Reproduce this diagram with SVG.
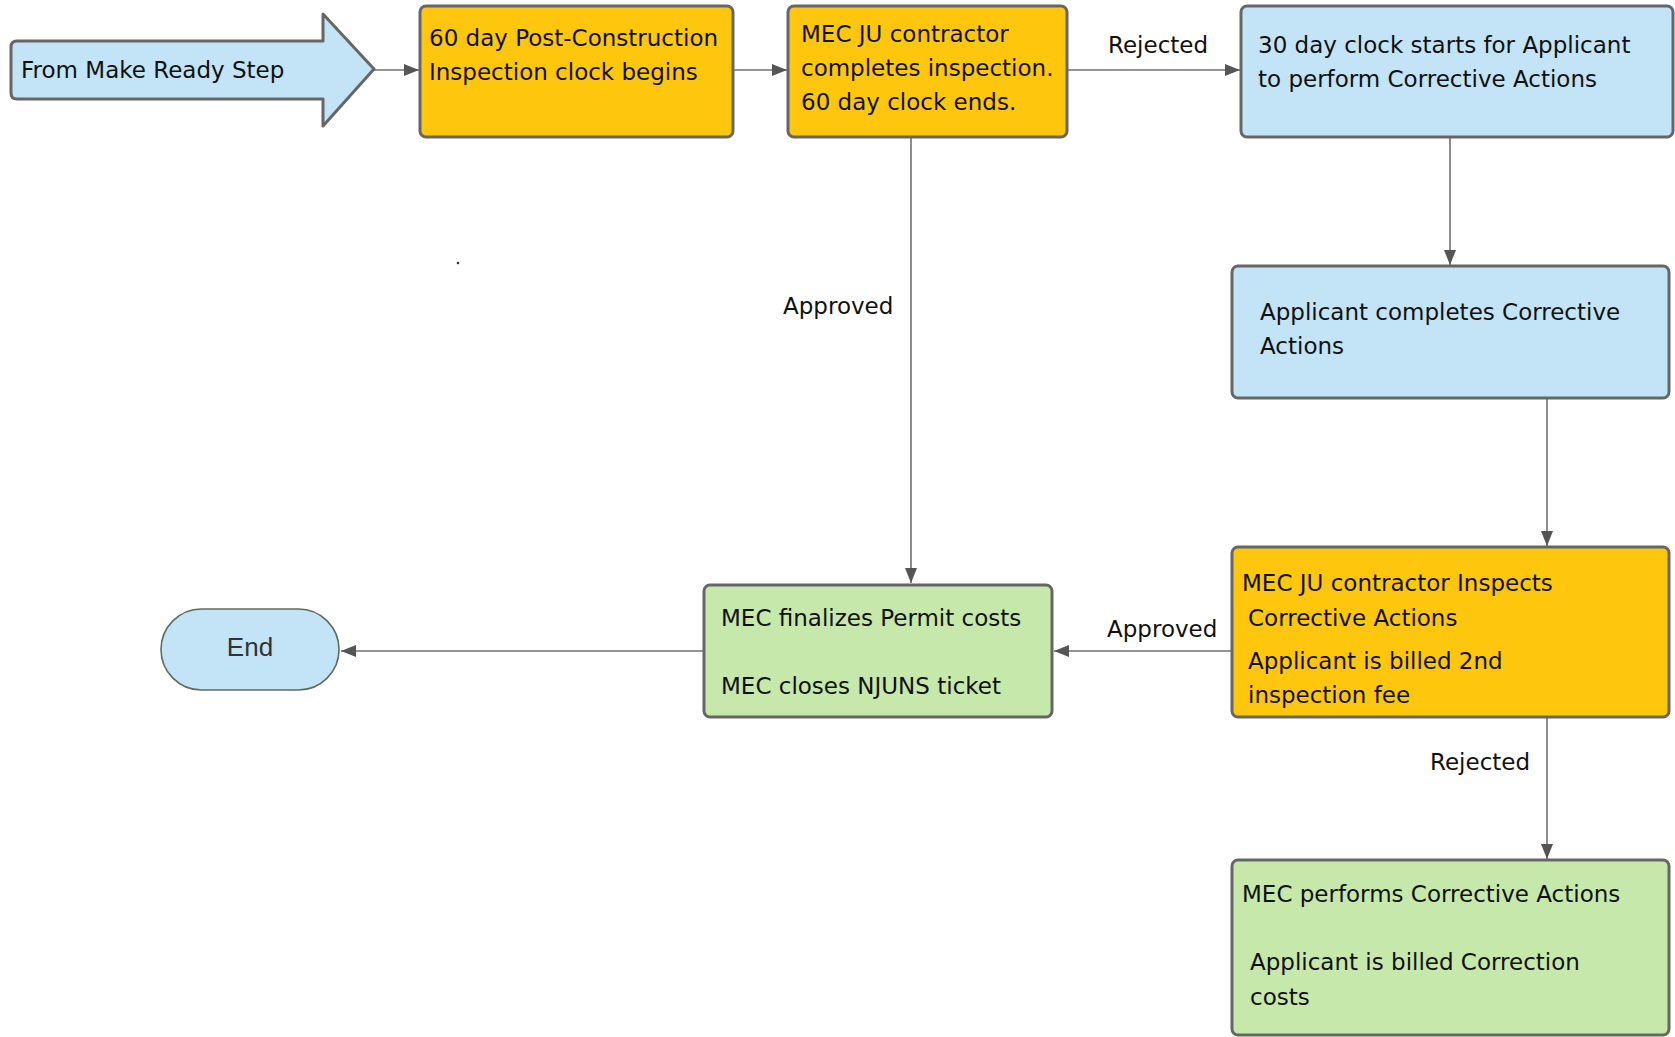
<svg xmlns="http://www.w3.org/2000/svg" width="1675" height="1037" viewBox="0 0 1675 1037">
<defs>
<style>
.box{stroke:#666;stroke-width:3}
.gold{fill:#FFC60E}
.blue{fill:#C2E4F6}
.green{fill:#C6E8AB}
.t{font-family:"DejaVu Sans",Verdana,sans-serif;font-size:23px;fill:#111}
.lbl{font-family:"DejaVu Sans",Verdana,sans-serif;font-size:23px;fill:#111}
.con{fill:none;stroke:#707070;stroke-width:1.6}
</style>
<marker id="ah" markerUnits="userSpaceOnUse" markerWidth="15" markerHeight="12" refX="15" refY="6" orient="auto">
<path d="M0,0 L15,6 L0,12 z" fill="#555"/>
</marker>
</defs>
<rect width="1675" height="1037" fill="#fff"/>
<g id="connectors">
<path class="con" d="M374,70 L419,70" marker-end="url(#ah)"/>
<path class="con" d="M733,70 L787,70" marker-end="url(#ah)"/>
<path class="con" d="M1067,70 L1240,70" marker-end="url(#ah)"/>
<path class="con" d="M1450,137 L1450,265" marker-end="url(#ah)"/>
<path class="con" d="M1547,398 L1547,546" marker-end="url(#ah)"/>
<path class="con" d="M911,137 L911,583" marker-end="url(#ah)"/>
<path class="con" d="M1232,651 L1054,651" marker-end="url(#ah)"/>
<path class="con" d="M704,651 L341,651" marker-end="url(#ah)"/>
<path class="con" d="M1547,717 L1547,859" marker-end="url(#ah)"/>
<text class="lbl" x="1108" y="53">Rejected</text>
<text class="lbl" x="783" y="314">Approved</text>
<text class="lbl" x="1107" y="637">Approved</text>
<text class="lbl" x="1430" y="770">Rejected</text>
</g>
<g id="start">
<path class="box blue" stroke-linejoin="round" d="M17,41 L323,41 L323,14 L374,69 L323,126 L323,99 L17,99 Q11,99 11,93 L11,47 Q11,41 17,41 z"/>
<text class="t" x="21" y="78">From Make Ready Step</text>
</g>
<g id="n1">
<rect class="box gold" x="420" y="6" width="313" height="131" rx="6"/>
<text class="t" x="429" y="46">60 day Post-Construction</text>
<text class="t" x="429" y="80">Inspection clock begins</text>
</g>
<g id="n2">
<rect class="box gold" x="788" y="6" width="279" height="131" rx="6"/>
<text class="t" x="801" y="42">MEC JU contractor</text>
<text class="t" x="801" y="76">completes inspection.</text>
<text class="t" x="801" y="110">60 day clock ends.</text>
</g>
<g id="n3">
<rect class="box blue" x="1241" y="6" width="432" height="131" rx="6"/>
<text class="t" x="1258" y="53">30 day clock starts for Applicant</text>
<text class="t" x="1258" y="87">to perform Corrective Actions</text>
</g>
<g id="n4">
<rect class="box blue" x="1232" y="266" width="437" height="132" rx="6"/>
<text class="t" x="1260" y="320">Applicant completes Corrective</text>
<text class="t" x="1260" y="354">Actions</text>
</g>
<g id="n5">
<rect class="box gold" x="1232" y="547" width="437" height="170" rx="6"/>
<text class="t" x="1242" y="591">MEC JU contractor Inspects</text>
<text class="t" x="1248" y="626">Corrective Actions</text>
<text class="t" x="1248" y="669">Applicant is billed 2nd</text>
<text class="t" x="1248" y="703">inspection fee</text>
</g>
<g id="n6">
<rect class="box green" x="704" y="585" width="348" height="132" rx="6"/>
<text class="t" x="721" y="626">MEC finalizes Permit costs</text>
<text class="t" x="721" y="694">MEC closes NJUNS ticket</text>
</g>
<g id="n7">
<rect class="box green" x="1232" y="860" width="437" height="175" rx="6"/>
<text class="t" x="1242" y="902">MEC performs Corrective Actions</text>
<text class="t" x="1250" y="970">Applicant is billed Correction</text>
<text class="t" x="1250" y="1005">costs</text>
</g>
<g id="end">
<rect x="161" y="609" width="178" height="81" rx="40.5" fill="#C2E4F6" stroke="#5E6B5E" stroke-width="1.6"/>
<text x="250" y="656" text-anchor="middle" font-family="Liberation Sans, Arial, sans-serif" font-size="26" fill="#333">End</text>
</g>
<circle cx="458" cy="263" r="1.3" fill="#333"/>
</svg>
